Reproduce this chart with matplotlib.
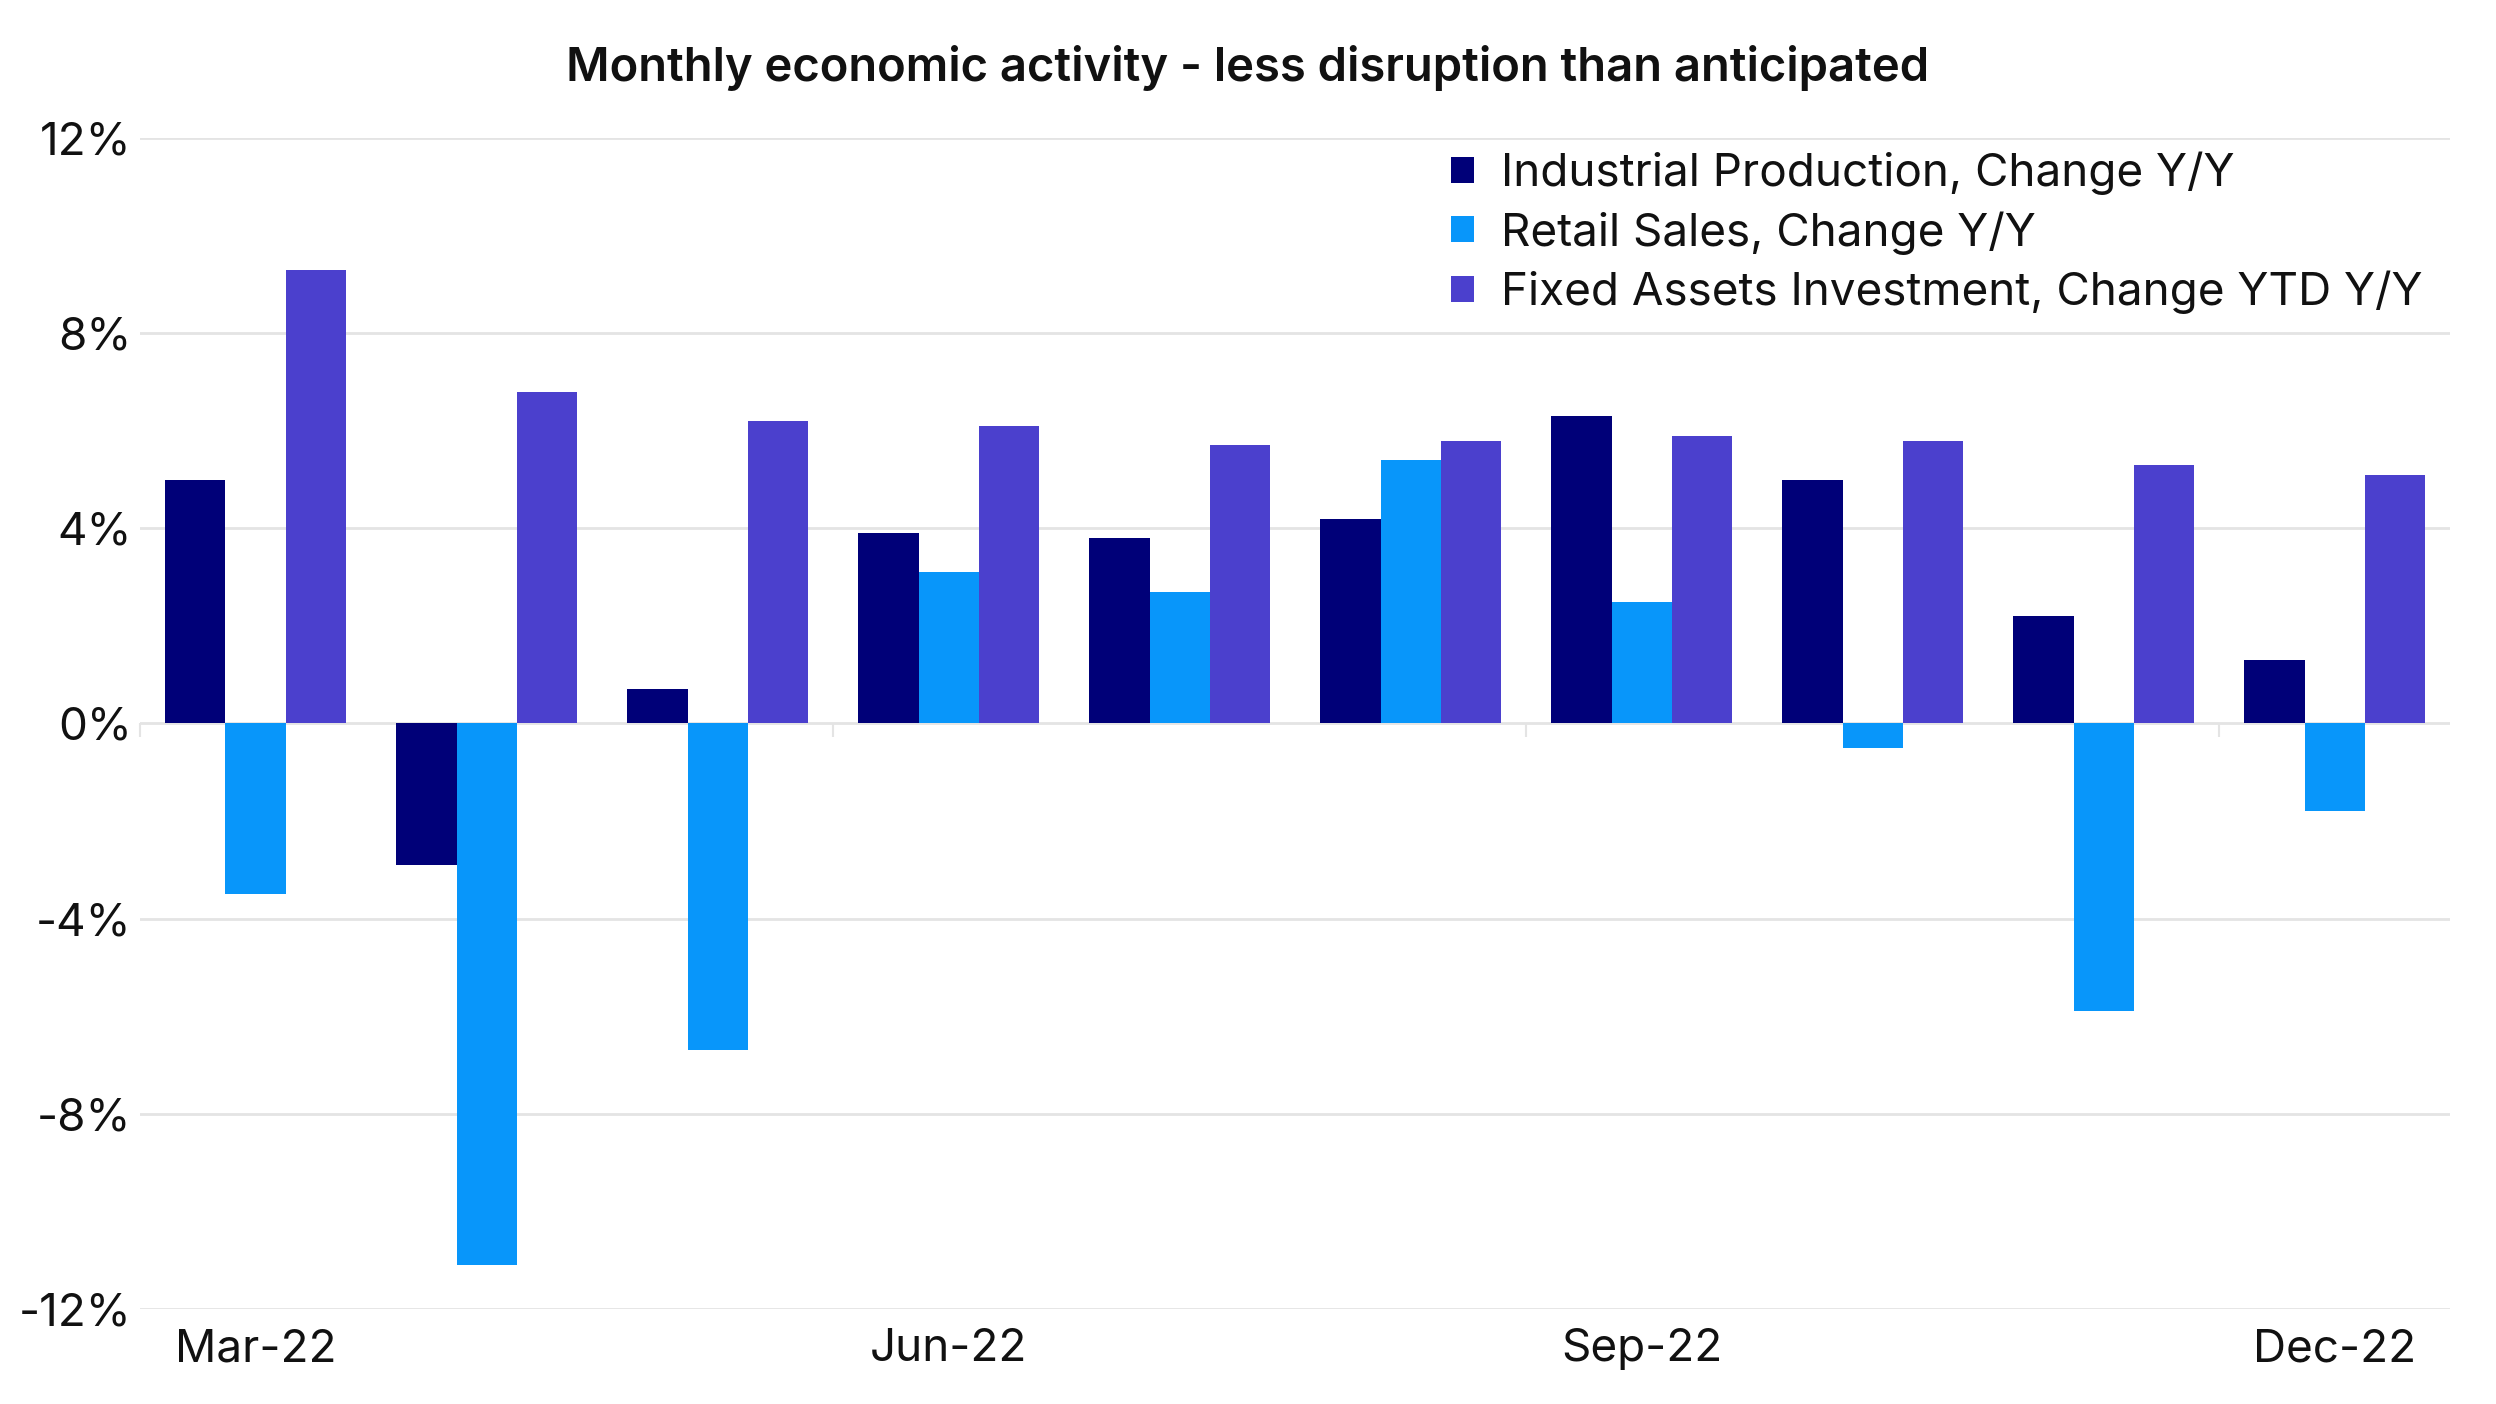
import matplotlib.pyplot as plt
import numpy as np

# monthly data, % change
months = ['Mar-22', 'Apr-22', 'May-22', 'Jun-22', 'Jul-22',
          'Aug-22', 'Sep-22', 'Oct-22', 'Nov-22', 'Dec-22']
industrial_production = [5.0, -2.9, 0.7, 3.9, 3.8, 4.2, 6.3, 5.0, 2.2, 1.3]
retail_sales = [-3.5, -11.1, -6.7, 3.1, 2.7, 5.4, 2.5, -0.5, -5.9, -1.8]
fixed_assets = [9.3, 6.8, 6.2, 6.1, 5.7, 5.8, 5.9, 5.8, 5.3, 5.1]
series_names = ['Industrial Production, Change Y/Y',
                'Retail Sales, Change Y/Y',
                'Fixed Assets Investment, Change YTD Y/Y']
y_ticks = [-12, -8, -4, 0, 4, 8, 12]

colors = ['#000078', '#0896FA', '#4B40CD']
grid_color = '#E4E4E4'

plt.rcParams['font.family'] = ['Inter', 'DejaVu Sans']

fig = plt.figure(figsize=(24.96, 14.04), dpi=100)
ax = fig.add_axes([0.0561, 0.0677, 0.9255, 0.834])

x = np.arange(len(months))
width = 0.26
all_series = [industrial_production, retail_sales, fixed_assets]
for i, values in enumerate(all_series):
    ax.bar(x + (i - 1) * width, values, width, color=colors[i],
           label=series_names[i], zorder=3)

ax.set_xlim(-0.5, len(months) - 0.5)
ax.set_ylim(-12, 12)
ax.set_yticks(y_ticks)
ax.set_yticklabels([f'{t}%' for t in y_ticks])
ax.yaxis.grid(True, color=grid_color, linewidth=2, zorder=0)

# only every third month gets a label
ax.set_xticks(x[::3])
ax.set_xticklabels(months[::3])
ax.tick_params(axis='x', length=0, pad=14, labelsize=33, labelcolor='#111111')
ax.tick_params(axis='y', length=0, pad=6, labelsize=33, labelcolor='#111111')
for side in ['top', 'right', 'left', 'bottom']:
    ax.spines[side].set_visible(False)

# small separators hanging from the zero line
sep = ax.secondary_xaxis(0, transform=ax.transData)
sep.set_xticks(x[::3] - 0.5)
sep.set_xticklabels([''] * len(x[::3]))
sep.tick_params(length=10, width=1.5, color=grid_color)
sep.spines['bottom'].set_visible(False)

ax.legend(loc='upper right', bbox_to_anchor=(1.0, 1.012), frameon=False,
          fontsize=33, handlelength=0.5, handleheight=0.5, handletextpad=0.6,
          labelspacing=0.35, borderaxespad=0.2, labelcolor='#111111')

fig.suptitle('Monthly economic activity - less disruption than anticipated',
             fontsize=34, fontweight='semibold', y=0.968, color='#111111')

fig.savefig('out.png', dpi=100, facecolor='white')
